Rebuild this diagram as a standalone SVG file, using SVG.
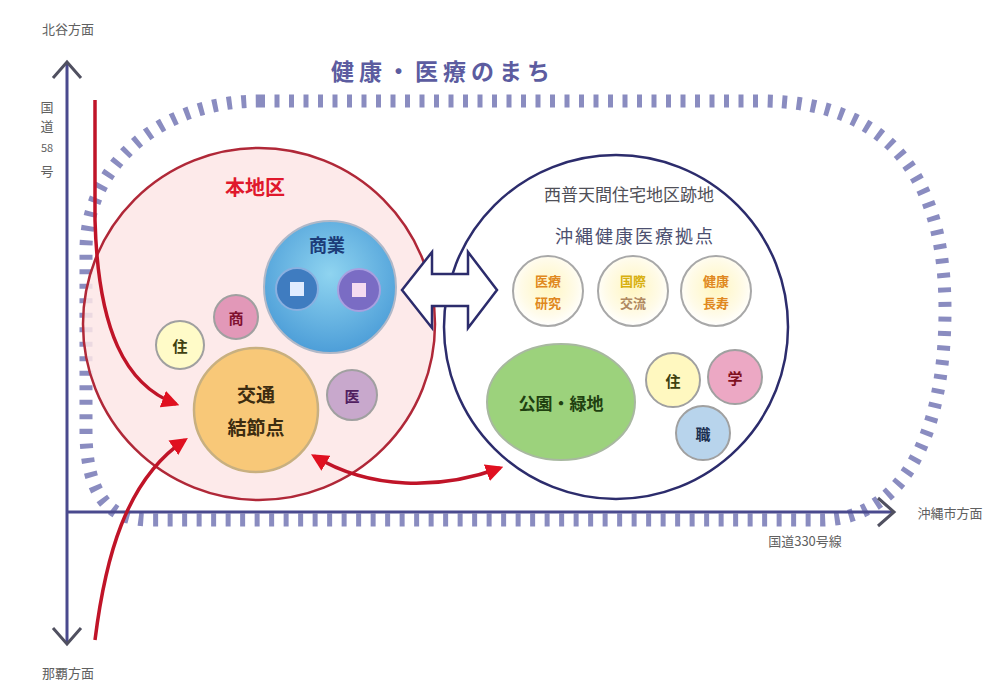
<svg xmlns="http://www.w3.org/2000/svg" width="1005" height="691" viewBox="0 0 1005 691">
<style>
text{font-family:"Noto Sans CJK JP","Noto Sans CJK SC",sans-serif;text-anchor:middle;dominant-baseline:central}
.lbl{font-size:13px;fill:#606060}
.axis{stroke:#4a4a8e;stroke-width:3;fill:none}
.chev{stroke:#505060;stroke-width:3;fill:none}
.red{stroke:#c01428;stroke-width:3.5;fill:none}
.sm{stroke:#a0a0a0;stroke-width:2}
</style>
<defs>
<marker id="rh" viewBox="0 0 10 10" refX="8" refY="5" markerWidth="5" markerHeight="5" orient="auto-start-reverse" markerUnits="strokeWidth">
<path d="M0,0 L10,5 L0,10 z" fill="#e01020"/>
</marker>
<radialGradient id="gw" cx="50%" cy="45%" r="55%">
<stop offset="0" stop-color="#fff6c0"/><stop offset="0.7" stop-color="#fffbe8"/><stop offset="1" stop-color="#ffffff"/>
</radialGradient>
<radialGradient id="gb" cx="50%" cy="40%" r="60%">
<stop offset="0" stop-color="#8fd4f0"/><stop offset="1" stop-color="#4d9ed8"/>
</radialGradient>
</defs>
<rect width="1005" height="691" fill="#ffffff"/>

<g id="track">
<path d="M 260,101 L 760,101 C 900,101 945,190 945,310 C 945,440 900,520 820,520 L 150,520 C 105,520 86,490 86,430 L 86,250 C 86,165 160,101 260,101 Z" fill="none" stroke="#8a8cc0" stroke-width="13" stroke-dasharray="5 9.5"/>
</g>

<g id="title"><text x="443" y="70" style="font-size:23px;font-weight:bold;letter-spacing:5px;fill:#5c5ca0">健康・医療のまち</text></g>

<g id="axes">
<line class="axis" x1="67" y1="64" x2="67" y2="642"/>
<path class="chev" d="M53,78 L67,62 L81,78"/>
<path class="chev" d="M53,628 L67,644 L81,628"/>
<line class="axis" x1="67" y1="512" x2="892" y2="512"/>
<path class="chev" d="M878,498 L894,512 L878,526"/>
<text class="lbl" x="68" y="28">北谷方面</text>
<text class="lbl" x="68" y="672">那覇方面</text>
<text class="lbl" x="950" y="512">沖縄市方面</text>
<text class="lbl" x="805" y="540">国道330号線</text>
<text class="lbl"><tspan x="47" y="106">国</tspan><tspan x="47" y="125">道</tspan><tspan x="47" y="147" style="font-size:11px">58</tspan><tspan x="47" y="170">号</tspan></text>
</g>

<g id="district">
<circle cx="259" cy="324" r="176" fill="#fde6e6" fill-opacity="0.85" stroke="#b02838" stroke-width="2.5"/>
<text x="255" y="186" style="font-size:20px;font-weight:bold;fill:#e0182c">本地区</text>
</g>

<g id="commerce">
<circle cx="330" cy="287" r="66" fill="url(#gb)" stroke="#b0b8c8" stroke-width="2"/>
<text x="327" y="244" style="font-size:18px;font-weight:bold;fill:#1c3c78">商業</text>
<circle cx="297" cy="289" r="21" fill="#3f7cc0" stroke="#8ab0e0" stroke-width="2"/>
<rect x="290" y="282" width="14" height="14" fill="#e0ecff"/>
<circle cx="359" cy="290" r="21" fill="#7a6cc4" stroke="#a8a0e0" stroke-width="2"/>
<rect x="352" y="283" width="14" height="14" fill="#f4dcf0"/>
</g>

<g id="shop"><circle class="sm" cx="236" cy="317" r="22" fill="#e298b8"/><text x="236" y="317" style="font-size:15px;font-weight:bold;fill:#801030">商</text></g>
<g id="home1"><circle class="sm" cx="180" cy="345" r="24" fill="#fffbc8"/><text x="180" y="345" style="font-size:15px;font-weight:bold;fill:#404010">住</text></g>
<g id="hub"><circle cx="256" cy="410" r="62" fill="#f8c878" stroke="#c8b080" stroke-width="2.5"/>
<text x="256" y="393" style="font-size:19px;font-weight:bold;fill:#3c2c10">交通</text>
<text x="256" y="426" style="font-size:19px;font-weight:bold;fill:#3c2c10">結節点</text></g>
<g id="med1"><circle class="sm" cx="352" cy="395" r="25" fill="#c8a8cc"/><text x="352" y="395" style="font-size:15px;font-weight:bold;fill:#502060">医</text></g>

<g id="site">
<circle cx="616" cy="327" r="172" fill="#ffffff" stroke="#2c2c6c" stroke-width="2.5"/>
<text x="629" y="193" style="font-size:17px;fill:#505058">西普天間住宅地区跡地</text>
<text x="635" y="235" style="font-size:18px;fill:#4c5070;letter-spacing:2px">沖縄健康医療拠点</text>
</g>
<g id="c1"><circle cx="548" cy="291" r="35" fill="url(#gw)" stroke="#a8a8a8" stroke-width="2"/>
<text x="548" y="280" style="font-size:13px;font-weight:bold;fill:#e08820">医療</text><text x="548" y="302" style="font-size:13px;font-weight:bold;fill:#e08820">研究</text></g>
<g id="c2"><circle cx="633" cy="291" r="35" fill="url(#gw)" stroke="#a8a8a8" stroke-width="2"/>
<text x="633" y="280" style="font-size:13px;font-weight:bold;fill:#d8b010">国際</text><text x="633" y="302" style="font-size:13px;font-weight:bold;fill:#b08860">交流</text></g>
<g id="c3"><circle cx="716" cy="291" r="35" fill="url(#gw)" stroke="#a8a8a8" stroke-width="2"/>
<text x="716" y="280" style="font-size:13px;font-weight:bold;fill:#e08820">健康</text><text x="716" y="302" style="font-size:13px;font-weight:bold;fill:#e08820">長寿</text></g>
<g id="park"><ellipse cx="561" cy="402" rx="74" ry="58" fill="#9cd27c" stroke="#a8b8a0" stroke-width="2"/>
<text x="561" y="402" style="font-size:17px;font-weight:bold;fill:#204010">公園・緑地</text></g>
<g id="home2"><circle class="sm" cx="673" cy="380" r="27" fill="#fff8c0"/><text x="673" y="380" style="font-size:15px;font-weight:bold;fill:#404010">住</text></g>
<g id="school"><circle class="sm" cx="735" cy="377" r="27" fill="#eca8c4"/><text x="735" y="377" style="font-size:15px;font-weight:bold;fill:#801020">学</text></g>
<g id="work"><circle class="sm" cx="703" cy="433" r="27" fill="#b8d4ec"/><text x="703" y="433" style="font-size:15px;font-weight:bold;fill:#1c3050">職</text></g>

<g id="connectors">
<path d="M402,290 L432,252 L432,274 L468,274 L468,252 L497,290 L468,328 L468,306 L432,306 L432,328 Z" fill="#ffffff" stroke="#2c2c6c" stroke-width="2.5" stroke-linejoin="miter"/>
<path class="red" d="M95,100 L95,220 C98,330 125,385 176,404" marker-end="url(#rh)"/>
<path class="red" d="M95,640 C105,560 125,480 185,440" marker-end="url(#rh)"/>
<path class="red" d="M314,456 C370,490 440,490 500,468" marker-start="url(#rh)" marker-end="url(#rh)"/>
</g>
</svg>
